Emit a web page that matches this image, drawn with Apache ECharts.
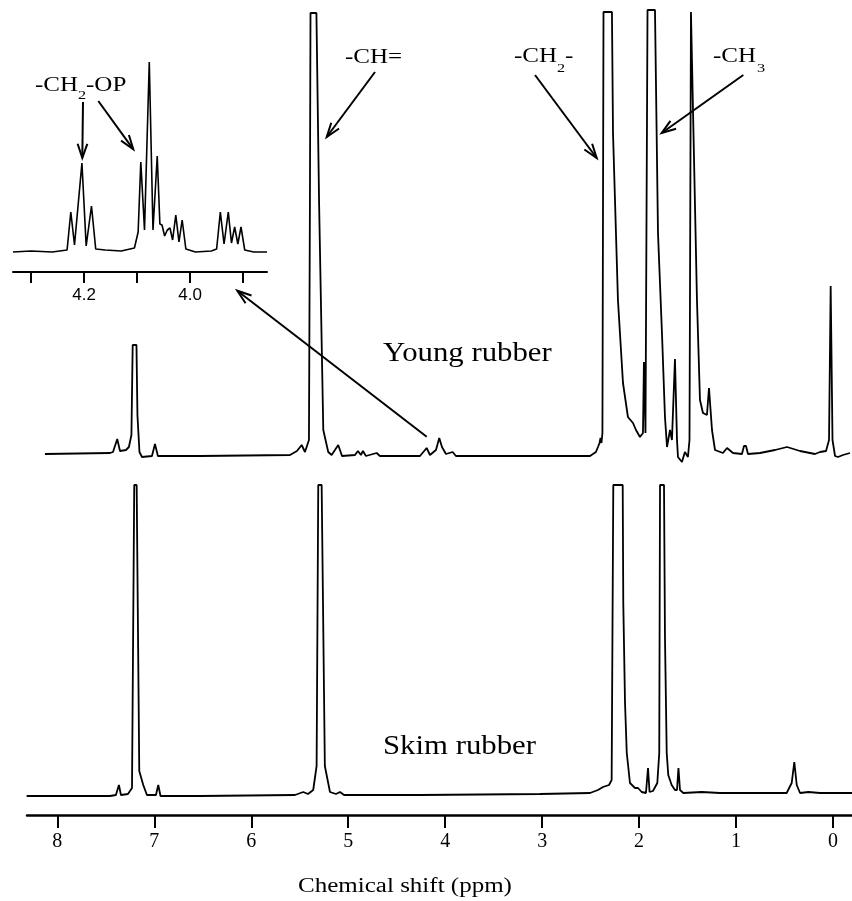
<!DOCTYPE html>
<html>
<head>
<meta charset="utf-8">
<script src="https://cdn.jsdelivr.net/npm/echarts@6/dist/echarts.min.js"></script>
<style>
  html, body { margin: 0; padding: 0; background: #fff; }
  #chart { width: 852px; height: 901px; }
</style>
</head>
<body>
<div id="chart"></div>
<script>
// chemical shift (ppm), intensity (arb. units, baseline = 0)
const youngRubber = [
  [8.128, 1], [7.457, 2], [7.426, 3], [7.382, 16], [7.354, 4], [7.292, 5], [7.262, 8],
  [7.236, 20], [7.223, 110], [7.184, 110], [7.174, 40], [7.153, 3], [7.127, -2], [7.024, -1],
  [6.993, 11], [6.963, -1], [6.529, -1], [5.601, 0], [5.529, 4], [5.480, 10], [5.446, 3],
  [5.405, 15], [5.395, 250], [5.389, 442], [5.328, 442], [5.300, 250], [5.257, 25], [5.206, 3],
  [5.171, 0], [5.103, 10], [5.064, -1], [4.930, 0], [4.900, 4], [4.869, 0], [4.848, 4],
  [4.817, -1], [4.707, 2], [4.673, -1], [4.260, -1], [4.191, 7], [4.157, 0], [4.095, 5],
  [4.061, 17], [4.033, 8], [3.992, 1], [3.923, 3], [3.889, -1], [3.435, -1], [2.506, -1],
  [2.445, 3], [2.424, 8], [2.408, 12], [2.398, 17], [2.388, 12], [2.378, 22], [2.367, 443],
  [2.280, 443], [2.269, 322], [2.218, 155], [2.166, 72], [2.115, 38], [2.063, 32], [2.032, 25],
  [1.991, 18], [1.960, 22], [1.950, 93], [1.934, 22], [1.913, 445], [1.836, 445], [1.805, 222],
  [1.764, 122], [1.733, 38], [1.712, 8], [1.681, 25], [1.661, 15], [1.630, 96], [1.609, 15],
  [1.599, -2], [1.558, -7], [1.527, 3], [1.496, -2], [1.480, 15], [1.465, 443], [1.403, 155],
  [1.372, 55], [1.341, 42], [1.300, 40], [1.279, 67], [1.248, 25], [1.217, 5], [1.135, 2],
  [1.093, 7], [1.031, 2], [0.939, 1], [0.918, 9], [0.897, 9], [0.877, 1], [0.753, 2],
  [0.598, 5], [0.474, 8], [0.340, 4], [0.186, 1], [0.134, 3], [0.072, 4], [0.041, 15],
  [0.024, 169], [0.005, 15], [-0.021, -1], [-0.052, -2], [-0.103, 0], [-0.175, 2]
];

const skimRubber = [
  [8.317, 0], [7.973, 0], [7.457, 0], [7.396, 1], [7.365, 11], [7.344, 1], [7.272, 2],
  [7.230, 8], [7.207, 311], [7.182, 311], [7.155, 25], [7.114, 11], [7.076, 1], [6.983, 1],
  [6.959, 11], [6.936, 0], [6.529, 0], [5.549, 1], [5.464, 4], [5.415, 2], [5.361, 6],
  [5.326, 30], [5.309, 311], [5.274, 311], [5.241, 30], [5.188, 4], [5.126, 2], [5.085, 4],
  [5.043, 1], [4.260, 1], [3.022, 2], [2.506, 3], [2.424, 6], [2.372, 9], [2.310, 11],
  [2.283, 16], [2.266, 311], [2.169, 311], [2.163, 193], [2.145, 93], [2.127, 43], [2.094, 13],
  [2.042, 8], [2.011, 8], [1.973, 4], [1.929, 3], [1.908, 28], [1.892, 4], [1.857, 5],
  [1.812, 13], [1.792, 43], [1.784, 311], [1.743, 311], [1.733, 159], [1.715, 43], [1.699, 21],
  [1.664, 11], [1.630, 6], [1.609, 6], [1.594, 28], [1.578, 6], [1.544, 3], [1.354, 4],
  [1.166, 3], [0.478, 3], [0.426, 13], [0.399, 34], [0.374, 11], [0.340, 3], [0.255, 4],
  [0.134, 3], [-0.196, 3]
];

// expanded 3.85-4.35 ppm region of the young rubber spectrum
const insetYoung = [
  [4.334, 0], [4.300, 1], [4.260, 0], [4.232, 2], [4.225, 40], [4.218, 7], [4.204, 89],
  [4.196, 6], [4.186, 46], [4.178, 3], [4.160, 2], [4.130, 1], [4.105, 4], [4.098, 20],
  [4.093, 90], [4.086, 22], [4.077, 190], [4.070, 22], [4.062, 96], [4.057, 28], [4.053, 27],
  [4.048, 16], [4.043, 22], [4.038, 24], [4.033, 12], [4.027, 37], [4.021, 10], [4.015, 32],
  [4.008, 3], [3.990, 0], [3.960, 1], [3.950, 3], [3.943, 40], [3.936, 8], [3.928, 40],
  [3.922, 9], [3.916, 25], [3.910, 8], [3.904, 25], [3.897, 2], [3.880, 0], [3.855, 0]
];

const mainTicks = [8, 7, 6, 5, 4, 3, 2, 1, 0];
const insetTicks = [4.3, 4.2, 4.1, 4.0, 3.9];
const insetTickLabels = [4.2, 4.0];

const serif = '"Liberation Serif", "Times New Roman", serif';
const sans = '"Liberation Sans", Arial, sans-serif';

function label(x, y, text, size, sx) {
  return {
    type: 'text', x: x, y: y, scaleX: sx,
    style: { text: text, font: size + 'px ' + serif, fill: '#000', textAlign: 'left', textVerticalAlign: 'middle' }
  };
}

function arrow(x1, y1, x2, y2) {
  const a = Math.atan2(y2 - y1, x2 - x1), L = 15, h = 0.33;
  const p1 = [x2 - L * Math.cos(a - h), y2 - L * Math.sin(a - h)];
  const p2 = [x2 - L * Math.cos(a + h), y2 - L * Math.sin(a + h)];
  return [
    { type: 'line', shape: { x1: x1, y1: y1, x2: x2, y2: y2 }, style: { stroke: '#000', lineWidth: 2 } },
    { type: 'polyline', shape: { points: [p1, [x2, y2], p2] }, style: { stroke: '#000', lineWidth: 2, fill: null } }
  ];
}

const chart = echarts.init(document.getElementById('chart'), null, { renderer: 'canvas' });

const hiddenY = { type: 'value', show: false };

chart.setOption({
  animation: false,
  backgroundColor: '#fff',
  grid: [
    { left: 27, width: 825, top: 10, height: 460 },
    { left: 27, width: 825, top: 485, height: 330 },
    { left: 13, width: 254, top: 52, height: 220 }
  ],
  xAxis: [
    { gridIndex: 0, type: 'value', inverse: true, min: -0.196, max: 8.313, show: false },
    {
      gridIndex: 1, type: 'value', inverse: true, min: -0.196, max: 8.313,
      axisLine: { onZero: false, lineStyle: { color: '#000', width: 2.5 } },
      axisTick: { inside: false, length: 13, customValues: mainTicks, lineStyle: { color: '#000', width: 2 } },
      axisLabel: { customValues: mainTicks, margin: 17, color: '#000', fontSize: 20, fontFamily: serif },
      splitLine: { show: false }
    },
    {
      gridIndex: 2, type: 'value', inverse: true, min: 3.855, max: 4.334,
      axisLine: { onZero: false, lineStyle: { color: '#000', width: 2 } },
      axisTick: { length: 11, customValues: insetTicks, lineStyle: { color: '#000', width: 2 } },
      axisLabel: { customValues: insetTickLabels, margin: 15, color: '#000', fontSize: 17, fontFamily: sans,
        formatter: function (v) { return v.toFixed(1); } },
      splitLine: { show: false }
    }
  ],
  yAxis: [
    Object.assign({ gridIndex: 0, min: -15, max: 445 }, hiddenY),
    Object.assign({ gridIndex: 1, min: -19, max: 311 }, hiddenY),
    Object.assign({ gridIndex: 2, min: -20, max: 200 }, hiddenY)
  ],
  series: [
    { name: 'Young rubber', type: 'line', xAxisIndex: 0, yAxisIndex: 0, data: youngRubber,
      showSymbol: false, lineStyle: { color: '#000', width: 1.8 }, clip: false },
    { name: 'Skim rubber', type: 'line', xAxisIndex: 1, yAxisIndex: 1, data: skimRubber,
      showSymbol: false, lineStyle: { color: '#000', width: 1.8 }, clip: false },
    { name: 'Young rubber (4.3-3.9 ppm)', type: 'line', xAxisIndex: 2, yAxisIndex: 2, data: insetYoung,
      showSymbol: false, lineStyle: { color: '#000', width: 1.6 }, clip: false }
  ],
  graphic: {
    elements: [].concat(
      label(383, 354, 'Young rubber', 27, 1.14),
      label(383, 747, 'Skim rubber', 27, 1.14),
      label(345, 58, '-CH=', 20, 1.25),
      label(514, 57, '-CH', 20, 1.25), label(557, 69, '2', 13, 1.25), label(565, 57, '-', 20, 1.25),
      label(713, 57, '-CH', 20, 1.25), label(757, 69, '3', 13, 1.25),
      label(35, 86, '-CH', 20, 1.25), label(78, 96, '2', 13, 1.25), label(86, 86, '-OP', 20, 1.25),
      {
        type: 'text', x: 405, y: 887, scaleX: 1.25,
        style: { text: 'Chemical shift (ppm)', font: '20px ' + serif, fill: '#000', textAlign: 'center', textVerticalAlign: 'middle' }
      },
      arrow(375, 72, 326.7, 137),
      arrow(535, 75, 596.7, 158),
      arrow(743.3, 75, 661.7, 133),
      arrow(83, 102, 82.3, 158),
      arrow(98.3, 101, 133.3, 149.3),
      arrow(426.7, 436.7, 237.3, 290.7)
    )
  }
});
</script>
</body>
</html>
